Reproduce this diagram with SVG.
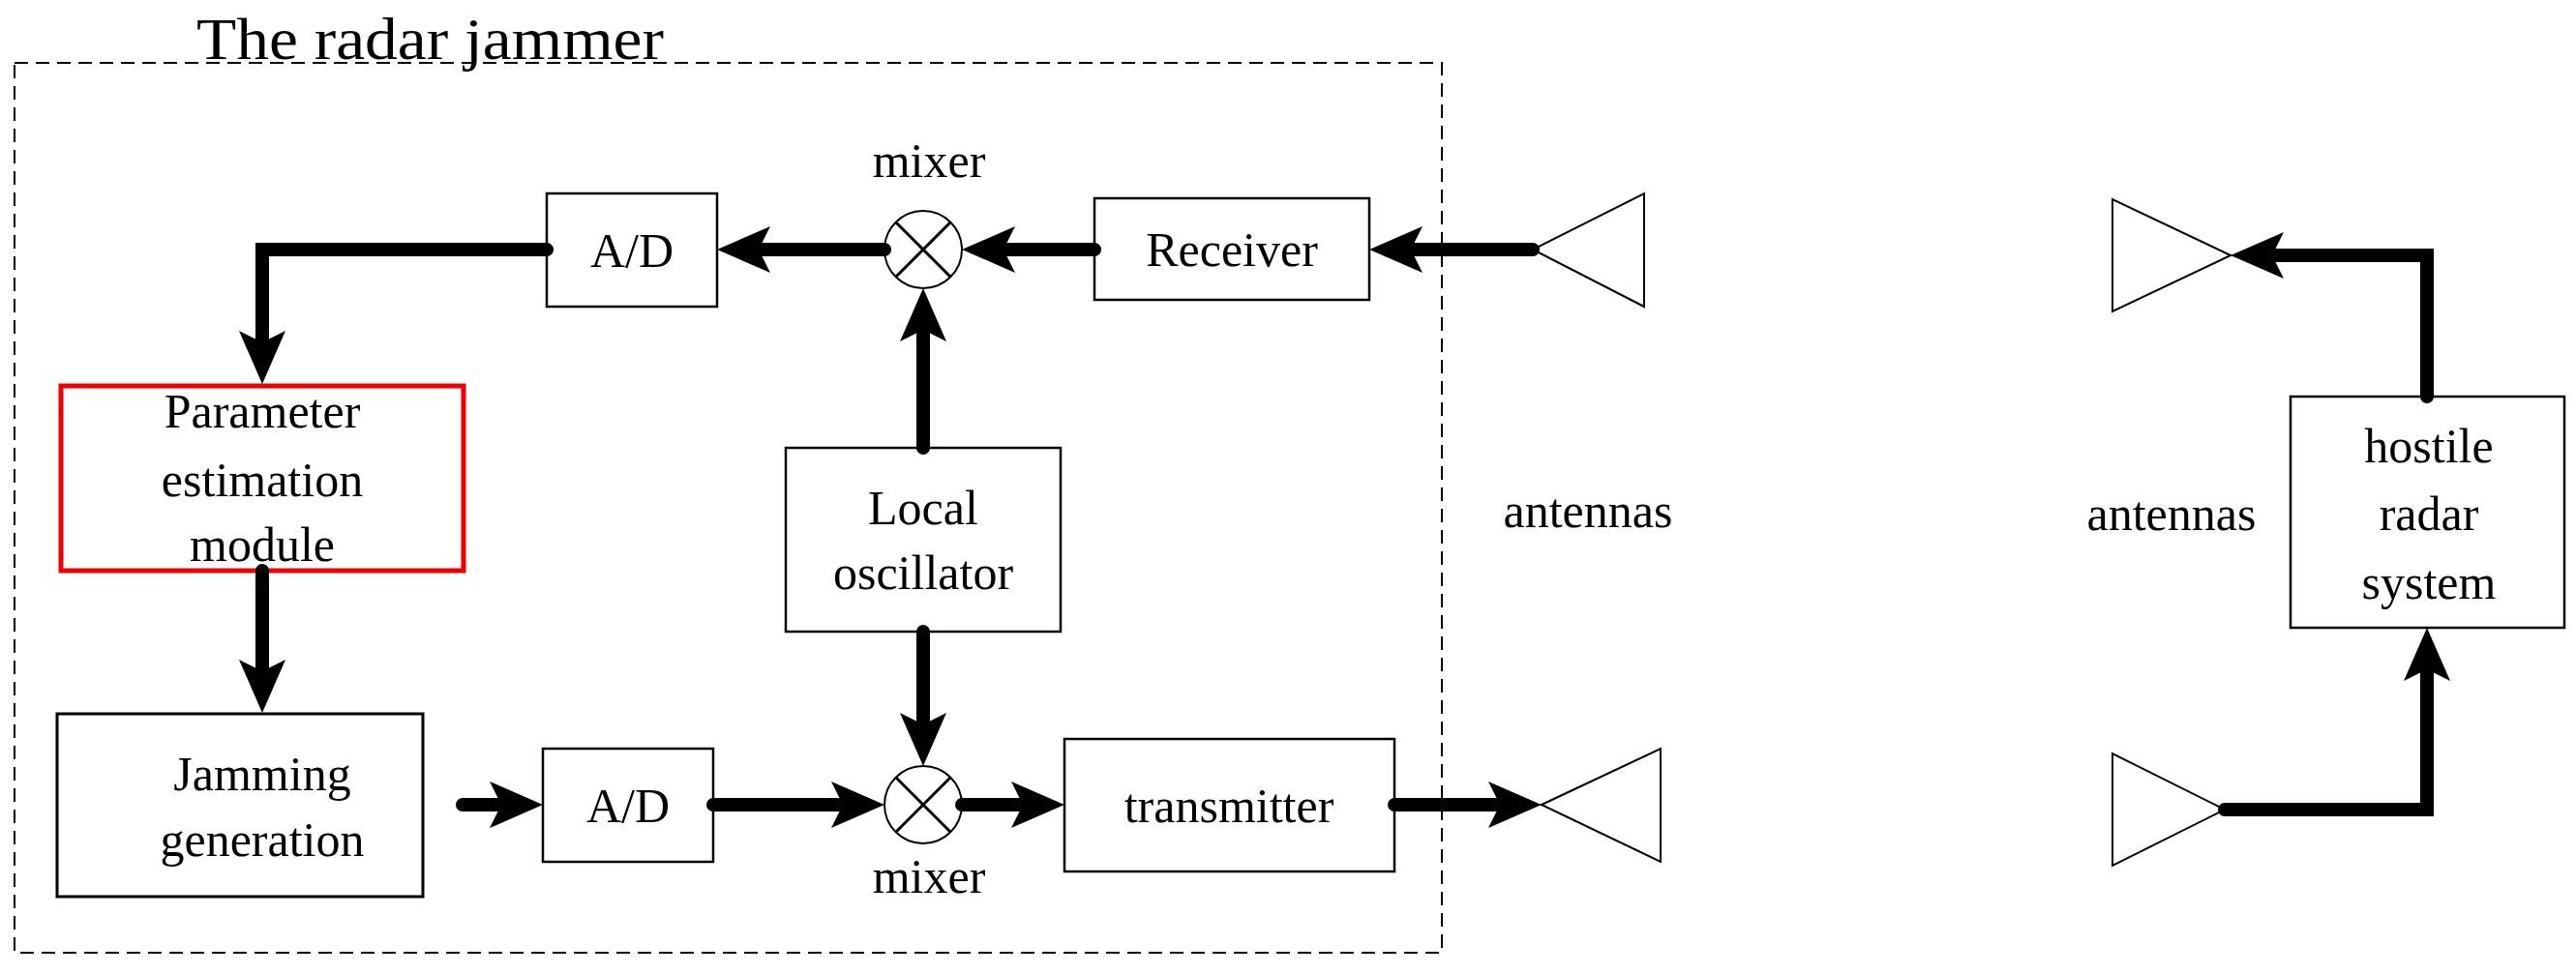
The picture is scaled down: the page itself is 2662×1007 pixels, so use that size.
<svg xmlns="http://www.w3.org/2000/svg" width="2662" height="1007" viewBox="0 0 2662 1007">
<style>
.box{fill:#fff;stroke:#000;stroke-width:2.5}
.t{font-family:"Liberation Serif","Times New Roman",serif;font-size:50px;fill:#000;text-anchor:middle}
.c{fill:none;stroke:#000;stroke-width:14;stroke-linecap:round;stroke-linejoin:miter;marker-end:url(#ah)}
.ant{fill:#fff;stroke:#000;stroke-width:2}
</style>
<defs>
<marker id="ah" markerUnits="userSpaceOnUse" markerWidth="56" markerHeight="50" refX="15" refY="24" orient="auto" overflow="visible">
<path d="M0,0 L55,24 L0,48 L12,24 Z" fill="#000"/>
</marker>
</defs>
<rect x="15" y="65" width="1475" height="920" fill="none" stroke="#000" stroke-width="2" stroke-dasharray="14,8"/>
<text x="203" y="61" font-family="Liberation Serif, serif" font-size="62" textLength="483" lengthAdjust="spacingAndGlyphs">The radar jammer</text>
<g id="ad_top"><rect class="box" x="565" y="200" width="176" height="117"/><text class="t" x="653" y="276">A/D</text></g>
<g id="mixer_top"><circle cx="954" cy="258" r="40" fill="#fff" stroke="#000" stroke-width="2"/><path d="M926,230 L982,286 M982,230 L926,286" stroke="#000" stroke-width="3"/><text class="t" x="960" y="183">mixer</text></g>
<g id="receiver"><rect class="box" x="1131" y="205" width="284" height="105"/><text class="t" x="1273" y="275">Receiver</text></g>
<g id="param"><rect x="63" y="399" width="416" height="191" fill="#fff" stroke="#e00" stroke-width="5"/><text class="t" x="271" y="442">Parameter</text><text class="t" x="271" y="513">estimation</text><text class="t" x="271" y="580">module</text></g>
<g id="lo"><rect class="box" x="812" y="463" width="284" height="190"/><text class="t" x="954" y="542">Local</text><text class="t" x="954" y="609">oscillator</text></g>
<g id="jam"><rect x="59" y="738" width="378" height="189" fill="#fff" stroke="#000" stroke-width="3"/><text class="t" x="271" y="817">Jamming</text><text class="t" x="271" y="885">generation</text></g>
<g id="ad_bot"><rect class="box" x="561" y="774" width="176" height="117"/><text class="t" x="649" y="850">A/D</text></g>
<g id="mixer_bot"><circle cx="954" cy="832" r="40" fill="#fff" stroke="#000" stroke-width="2"/><path d="M926,804 L982,860 M982,804 L926,860" stroke="#000" stroke-width="3"/><text class="t" x="960" y="923">mixer</text></g>
<g id="transmitter"><rect class="box" x="1100" y="764" width="341" height="137"/><text class="t" x="1270" y="850">transmitter</text></g>
<g id="ant_rx"><polygon class="ant" points="1584,258 1699,200 1699,317"/></g>
<g id="ant_tx"><polygon class="ant" points="1593,832 1716,774 1716,891"/></g>
<text class="t" x="1641" y="545">antennas</text>
<g id="hostile"><rect class="box" x="2367" y="410" width="283" height="239"/><text class="t" x="2510" y="478">hostile</text><text class="t" x="2510" y="548">radar</text><text class="t" x="2510" y="619">system</text></g>
<g id="ant_h1"><polygon class="ant" points="2305,264 2183,206 2183,322"/></g>
<g id="ant_h2"><polygon class="ant" points="2299,837 2183,779 2183,895"/></g>
<text class="t" x="2244" y="548">antennas</text>
<g id="connectors">
<path class="c" d="M565,258 H271 V357"/>
<path class="c" d="M271,590 V697"/>
<path class="c" d="M478,832 H521"/>
<path class="c" d="M737,832 H874"/>
<path class="c" d="M954,653 V752"/>
<path class="c" d="M954,463 V338"/>
<path class="c" d="M914,258 H781"/>
<path class="c" d="M1131,258 H1034"/>
<path class="c" d="M1584,258 H1455"/>
<path class="c" d="M994,832 H1060"/>
<path class="c" d="M1441,832 H1553"/>
<path class="c" d="M2508,410 V264 H2345"/>
<path class="c" d="M2299,837 H2508 V689"/>
</g>
</svg>
